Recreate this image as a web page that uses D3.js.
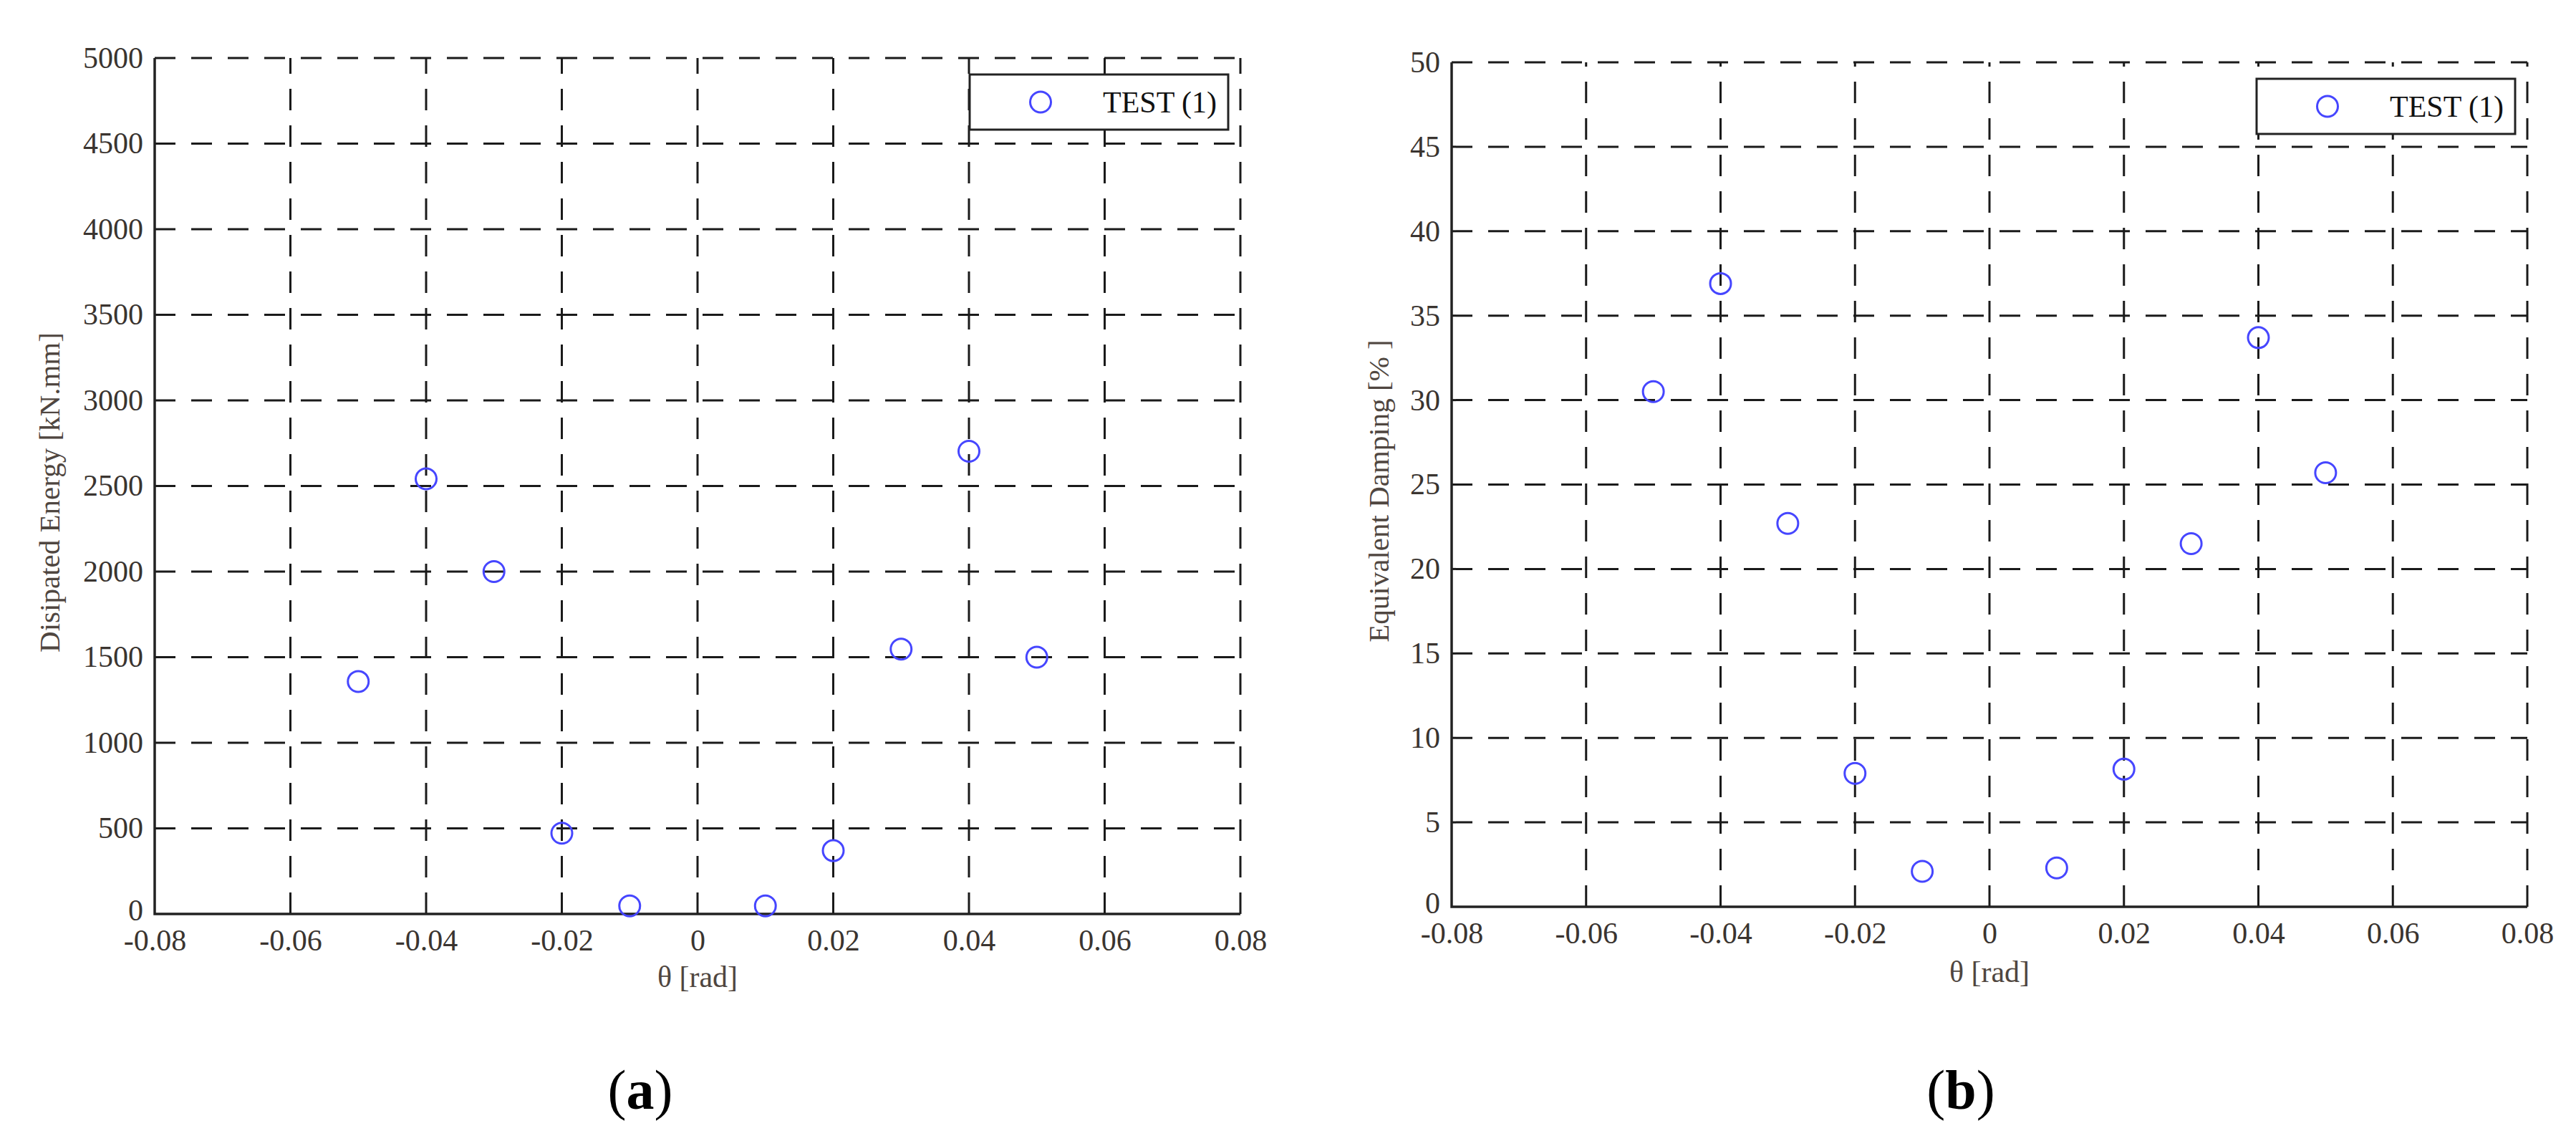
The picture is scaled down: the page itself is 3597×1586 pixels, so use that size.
<!DOCTYPE html>
<html>
<head>
<meta charset="utf-8">
<script src="https://cdn.jsdelivr.net/npm/d3@7"></script>
<style>
  html, body { margin: 0; padding: 0; background: #fff; }
  svg { display: block; }
  text { font-family: "Liberation Serif", "Times New Roman", serif; }
</style>
</head>
<body>
<div id="chart"></div>
<script>
// values
const theta = [-0.05, -0.04, -0.03, -0.02, -0.01, 0.01, 0.02, 0.03, 0.04, 0.05];
const energy = [1358, 2542, 2000, 472, 47, 47, 370, 1547, 2703, 1500];
const damping = [30.5, 36.9, 22.7, 7.9, 2.1, 2.3, 8.15, 21.5, 33.7, 25.7];

const thetaTicks = [-0.08, -0.06, -0.04, -0.02, 0, 0.02, 0.04, 0.06, 0.08];
const energyTicks = [0, 500, 1000, 1500, 2000, 2500, 3000, 3500, 4000, 4500, 5000];
const dampingTicks = [0, 5, 10, 15, 20, 25, 30, 35, 40, 45, 50];

const legendLabel = "TEST (1)";

const W = 3597, H = 1586;

const svg = d3.select("#chart").append("svg")
  .attr("width", W)
  .attr("height", H);

svg.append("rect").attr("width", W).attr("height", H).attr("fill", "#fff");

function panel(cfg) {
  const x = d3.scaleLinear().domain([-0.08, 0.08]).range([cfg.left, cfg.right]);
  const y = d3.scaleLinear().domain(cfg.yDomain).range([cfg.bottom, cfg.top]);
  const g = svg.append("g");

  // dashed grid, vertical lines start at the bottom, horizontal at the left
  g.selectAll(".vgrid")
    .data(cfg.xTicks.filter(d => d !== cfg.xTicks[0]))
    .join("line")
      .attr("class", "vgrid")
      .attr("x1", d => x(d)).attr("x2", d => x(d))
      .attr("y1", cfg.bottom).attr("y2", cfg.top)
      .attr("stroke", "#1a1a1a")
      .attr("stroke-width", 3)
      .attr("stroke-dasharray", "30,21");

  g.selectAll(".hgrid")
    .data(cfg.yTicks.filter(d => d !== cfg.yTicks[0]))
    .join("line")
      .attr("class", "hgrid")
      .attr("x1", cfg.left).attr("x2", cfg.right)
      .attr("y1", d => y(d)).attr("y2", d => y(d))
      .attr("stroke", "#1a1a1a")
      .attr("stroke-width", 3)
      .attr("stroke-dasharray", "29,22");

  // tick labels through d3 axes, drawn without the domain path
  const xAxis = g.append("g")
    .attr("transform", `translate(0,${cfg.bottom})`)
    .call(d3.axisBottom(x).tickValues(cfg.xTicks).tickSize(0).tickPadding(21)
      .tickFormat(d => d === 0 ? "0" : d.toFixed(2)));
  const yAxis = g.append("g")
    .attr("transform", `translate(${cfg.left},0)`)
    .call(d3.axisLeft(y).tickValues(cfg.yTicks).tickSize(0).tickPadding(16)
      .tickFormat(d3.format("d")));
  [xAxis, yAxis].forEach(a => {
    a.select(".domain").remove();
    a.selectAll("text")
      .attr("font-family", "Liberation Serif, serif")
      .attr("font-size", 42)
      .attr("fill", "#3a3430");
  });
  // the zero label sits a touch higher so it clears the first x label
  yAxis.selectAll(".tick text").filter(d => d === 0).attr("dy", "0.2em");

  // solid left + bottom axis
  g.append("path")
    .attr("d", `M${cfg.left},${cfg.top}V${cfg.bottom}H${cfg.right}`)
    .attr("fill", "none")
    .attr("stroke", "#222")
    .attr("stroke-width", 3.5);

  // axis titles
  g.append("text")
    .attr("x", (cfg.left + cfg.right) / 2)
    .attr("y", cfg.bottom + cfg.xLabelDy)
    .attr("text-anchor", "middle")
    .attr("font-size", 42)
    .attr("fill", "#4f4640")
    .text("\u03b8 [rad]");

  g.append("text")
    .attr("transform", `translate(${cfg.yLabelX},${(cfg.top + cfg.bottom) / 2 + 9}) rotate(-90)`)
    .attr("text-anchor", "middle")
    .attr("font-size", 41)
    .attr("fill", "#4f4640")
    .text(cfg.yLabel);

  // legend
  const lg = g.append("g")
    .attr("transform", `translate(${cfg.right - 17 - 361},${cfg.top + 23})`);
  lg.append("rect")
    .attr("width", 361).attr("height", 77)
    .attr("fill", "#fff")
    .attr("stroke", "#222")
    .attr("stroke-width", 3);
  lg.append("circle")
    .attr("cx", 99).attr("cy", 38.5).attr("r", 14.5)
    .attr("fill", "none")
    .attr("stroke", "#4646ff")
    .attr("stroke-width", 3);
  lg.append("text")
    .attr("x", 186).attr("y", 53)
    .attr("font-size", 42)
    .attr("fill", "#111")
    .text(legendLabel);

  // data markers
  g.selectAll(".pt")
    .data(theta.map((t, i) => [t, cfg.values[i]]))
    .join("circle")
      .attr("class", "pt")
      .attr("cx", d => x(d[0]))
      .attr("cy", d => y(d[1]))
      .attr("r", 14.5)
      .attr("fill", "none")
      .attr("stroke", "#4646ff")
      .attr("stroke-width", 3);

  // panel caption
  const cap = svg.append("text")
    .attr("x", cfg.captionX)
    .attr("y", 1548)
    .attr("text-anchor", "middle")
    .attr("font-size", 78)
    .attr("fill", "#000");
  cap.append("tspan").text("(");
  cap.append("tspan").attr("font-weight", "bold").text(cfg.caption);
  cap.append("tspan").text(")");
}

panel({
  left: 216, right: 1732, top: 81, bottom: 1276,
  yDomain: [0, 5000], xTicks: thetaTicks, yTicks: energyTicks,
  values: energy, yLabel: "Disipated Energy [kN.mm]", yLabelX: 83,
  xLabelDy: 102, caption: "a", captionX: 894
});

panel({
  left: 2027, right: 3529, top: 87, bottom: 1266,
  yDomain: [0, 50], xTicks: thetaTicks, yTicks: dampingTicks,
  values: damping, yLabel: "Equivalent Damping [% ]", yLabelX: 1939,
  xLabelDy: 105, caption: "b", captionX: 2738
});
</script>
</body>
</html>
